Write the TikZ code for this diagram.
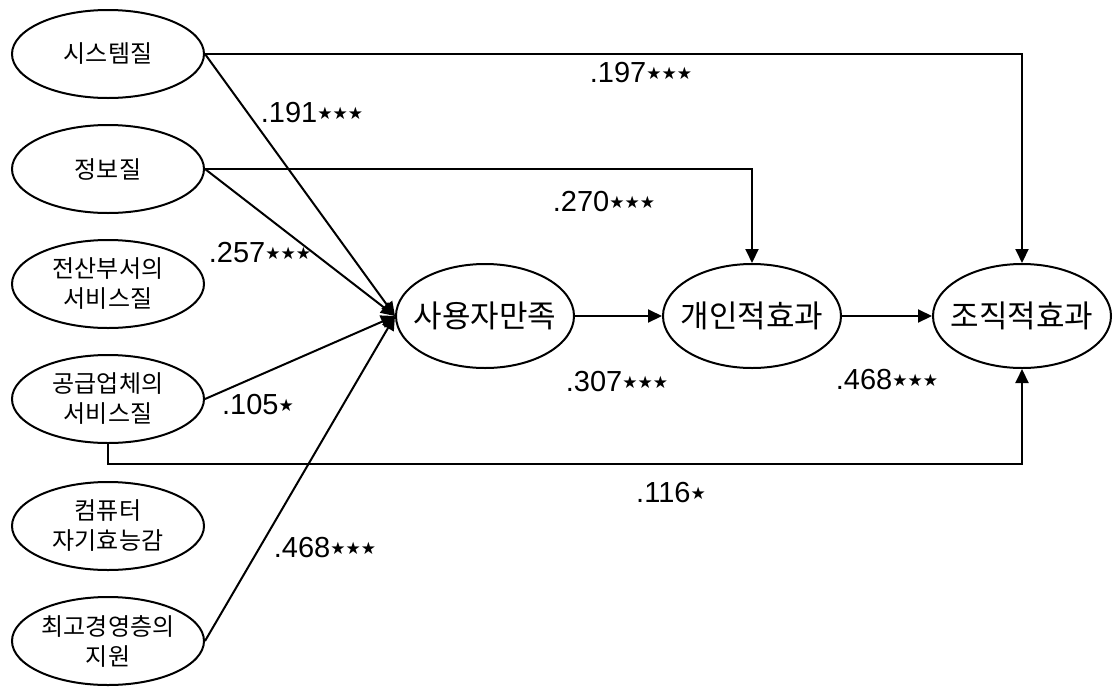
\documentclass[tikz,border=0pt]{standalone}
\usepackage{fontspec}
\setmainfont{Liberation Sans}
\newfontfamily\kr{Noto Sans CJK KR}
\newfontfamily\sym{DejaVu Sans}
\usepackage{tikz}
\usetikzlibrary{shapes, arrows.meta, positioning, calc}
\tikzstyle{factor} = [ellipse, draw=black, line width=1pt, minimum width=96pt, minimum height=44pt, inner xsep=-10pt, inner ysep=0pt, align=center, font=\kr\fontsize{12}{15}\selectfont]
\tikzstyle{latent} = [factor, minimum width=89pt, minimum height=52pt, font=\kr\fontsize{15.5}{17}\selectfont]
\tikzstyle{coef} = [inner sep=0pt, font=\fontsize{14.5}{16}\selectfont]
\tikzstyle{link} = [line width=1pt, -{Triangle[length=7pt, width=6.5pt]}]
\newcommand{\sig}{\raisebox{1.8pt}{\sym\fontsize{8.5}{8.5}\selectfont ★}}

\begin{document}
\begin{tikzpicture}[x=0.5pt, y=-0.5pt, node distance=57.5pt]
\useasboundingbox (0,0) rectangle (1113,686);
\node (sq) [factor] at (108,54) {시스템질};
\node (iq) [factor, below of=sq] {정보질};
\node (dq) [factor, below of=iq] {전산부서의\\서비스질};
\node (vq) [factor, below of=dq] {공급업체의\\서비스질};
\node (cq) [factor, below of=vq, yshift=-6pt] {컴퓨터\\자기효능감};
\node (tm) [factor, below of=cq] {최고경영층의\\지원};
\node (sat) [latent] at (485,316) {사용자만족};
\node (indiv) [latent, right of=sat, node distance=133.5pt] {개인적효과};
\node (org) [latent, right of=indiv, node distance=135pt] {조직적효과};
\coordinate (base) at (108,464);
\draw[link] (sq.east) -- (sat.west);
\draw[link] (iq.east) -- (sat.west);
\draw[link] (vq.east) -- (sat.west);
\draw[link] (tm.east) -- (sat.west);
\draw[link] (sq.east) -| (org.north);
\draw[link] (iq.east) -| (indiv.north);
\draw[link] (vq.south) |- (base -| org.south) -- (org.south);
\draw[link] (sat) -- (indiv);
\draw[link] (indiv) -- (org);
\node (c197) [coef] at (641,73) {.197\sig\sig\sig};
\node (c191) [coef] at (312,113) {.191\sig\sig\sig};
\node (c270) [coef] at (604,202) {.270\sig\sig\sig};
\node (c257) [coef] at (260,253) {.257\sig\sig\sig};
\node (c105) [coef] at (258,405) {.105\sig};
\node (c307) [coef] at (617,382) {.307\sig\sig\sig};
\node (c468b) [coef] at (887,380) {.468\sig\sig\sig};
\node (c116) [coef] at (671,493) {.116\sig};
\node (c468a) [coef] at (325,548) {.468\sig\sig\sig};
\end{tikzpicture}
\end{document}
